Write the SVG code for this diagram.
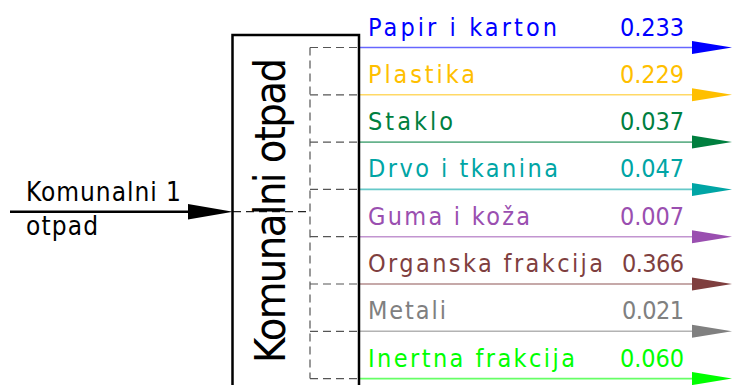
<svg xmlns="http://www.w3.org/2000/svg" width="732" height="385" viewBox="0 0 732 385">
<style>
text{font-family:"DejaVu Sans Condensed","DejaVu Sans","Liberation Sans",sans-serif;font-stretch:condensed;}
.lbl{font-size:25px;}
.num{font-size:25px;text-anchor:end;}
.out{stroke-width:1.6;opacity:0.6;fill:none;}
.dash{stroke:#555;stroke-width:1.2;stroke-dasharray:8,5;fill:none;}
</style>
<rect width="732" height="385" fill="#fff"/>
<g id="connectors">
<line x1="10" y1="211.7" x2="192" y2="211.7" stroke="#000" stroke-width="2.5"/>
<polygon points="188,204 233,211.7 188,219.5" fill="#000"/>
<line class="dash" x1="233" y1="211.7" x2="310" y2="211.7" style="stroke:#222"/>
<line class="dash" x1="310" y1="47.5" x2="310" y2="378.6"/>
<g class="dash">
<line x1="310" y1="47.5" x2="359" y2="47.5"/>
<line x1="310" y1="94.8" x2="359" y2="94.8"/>
<line x1="310" y1="142.1" x2="359" y2="142.1"/>
<line x1="310" y1="189.4" x2="359" y2="189.4"/>
<line x1="310" y1="236.7" x2="359" y2="236.7"/>
<line x1="310" y1="284" x2="359" y2="284"/>
<line x1="310" y1="331.3" x2="359" y2="331.3"/>
<line x1="310" y1="378.6" x2="359" y2="378.6"/>
</g>
<line class="out" x1="359" y1="47.5" x2="693" y2="47.5" stroke="#0000FF"/>
<polygon points="692,41 732,47.5 692,54" fill="#0000FF"/>
<line class="out" x1="359" y1="94.8" x2="693" y2="94.8" stroke="#FFBF00"/>
<polygon points="692,88.3 732,94.8 692,101.3" fill="#FFBF00"/>
<line class="out" x1="359" y1="142.1" x2="693" y2="142.1" stroke="#007F3F"/>
<polygon points="692,135.6 732,142.1 692,148.6" fill="#007F3F"/>
<line class="out" x1="359" y1="189.4" x2="693" y2="189.4" stroke="#00A5A5"/>
<polygon points="692,182.9 732,189.4 692,195.9" fill="#00A5A5"/>
<line class="out" x1="359" y1="236.7" x2="693" y2="236.7" stroke="#9A4FB0"/>
<polygon points="692,230.2 732,236.7 692,243.2" fill="#9A4FB0"/>
<line class="out" x1="359" y1="284" x2="693" y2="284" stroke="#7F3F3F"/>
<polygon points="692,277.5 732,284 692,290.5" fill="#7F3F3F"/>
<line class="out" x1="359" y1="331.3" x2="693" y2="331.3" stroke="#808080"/>
<polygon points="692,324.8 732,331.3 692,337.8" fill="#808080"/>
<line class="out" x1="359" y1="378.6" x2="693" y2="378.6" stroke="#00FF00"/>
<polygon points="692,372.1 732,378.6 692,385.1" fill="#00FF00"/>
</g>
<g id="input-label">
<text x="26" y="200.7" font-size="26" textLength="155" lengthAdjust="spacing">Komunalni 1</text>
<text x="26" y="235" font-size="26" textLength="72" lengthAdjust="spacing">otpad</text>
</g>
<g id="node-komunalni-otpad">
<rect x="232.5" y="35" width="126.5" height="380" fill="none" stroke="#000" stroke-width="2.5"/>
<text transform="translate(285,210.5) rotate(-90)" x="0" y="0" font-size="43" text-anchor="middle" textLength="305" lengthAdjust="spacing">Komunalni otpad</text>
</g>
<g id="out-papir" fill="#0000FF">
<text class="lbl" x="368" y="35.5" textLength="189" lengthAdjust="spacing">Papir i karton</text>
<text class="num" x="684" y="35.5" textLength="64" lengthAdjust="spacing">0.233</text>
</g>
<g id="out-plastika" fill="#FFBF00">
<text class="lbl" x="368" y="82.8" textLength="107" lengthAdjust="spacing">Plastika</text>
<text class="num" x="684" y="82.8" textLength="64" lengthAdjust="spacing">0.229</text>
</g>
<g id="out-staklo" fill="#007F3F">
<text class="lbl" x="368" y="130.1" textLength="85" lengthAdjust="spacing">Staklo</text>
<text class="num" x="684" y="130.1" textLength="64" lengthAdjust="spacing">0.037</text>
</g>
<g id="out-drvo" fill="#00A5A5">
<text class="lbl" x="368" y="177.4" textLength="190" lengthAdjust="spacing">Drvo i tkanina</text>
<text class="num" x="684" y="177.4" textLength="64" lengthAdjust="spacing">0.047</text>
</g>
<g id="out-guma" fill="#9A4FB0">
<text class="lbl" x="368" y="224.7" textLength="162" lengthAdjust="spacing">Guma i koža</text>
<text class="num" x="684" y="224.7" textLength="64" lengthAdjust="spacing">0.007</text>
</g>
<g id="out-organska" fill="#7F3F3F">
<text class="lbl" x="368" y="272" textLength="235" lengthAdjust="spacing">Organska frakcija</text>
<text class="num" x="684" y="272" textLength="62" lengthAdjust="spacing">0.366</text>
</g>
<g id="out-metali" fill="#808080">
<text class="lbl" x="368" y="319.3" textLength="78" lengthAdjust="spacing">Metali</text>
<text class="num" x="684" y="319.3" textLength="62" lengthAdjust="spacing">0.021</text>
</g>
<g id="out-inertna" fill="#00FF00">
<text class="lbl" x="368" y="366.6" textLength="207" lengthAdjust="spacing">Inertna frakcija</text>
<text class="num" x="684" y="366.6" textLength="64" lengthAdjust="spacing">0.060</text>
</g>
</svg>
